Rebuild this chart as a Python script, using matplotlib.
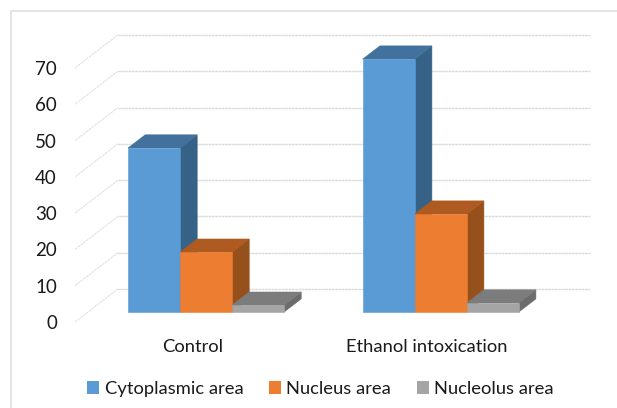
import matplotlib
matplotlib.use('Agg')
import matplotlib.pyplot as plt
from matplotlib.lines import Line2D
from matplotlib.patches import Polygon

plt.rcParams['font.family'] = ['Lato', 'DejaVu Sans']

# 数据
categories = ['Control', 'Ethanol intoxication']
series_names = ['Cytoplasmic area', 'Nucleus area', 'Nucleolus area']
cytoplasmic = [45.2, 69.7]
nucleus = [16.5, 27]
nucleolus = [1.9, 2.5]
y_ticks = [0, 10, 20, 30, 40, 50, 60, 70]

# 颜色: 正面, 顶面, 侧面
colors = [('#5b9bd5', '#41719c', '#376288'),
          ('#ed7d31', '#ae5a21', '#96501c'),
          ('#a5a5a5', '#7c7c7c', '#6c6c6c')]

W, H = 617, 408
fig = plt.figure(figsize=(W / 100, H / 100), dpi=100)

# 外框 (只有左边和上边)
fig.add_artist(Line2D([11 / W, 11 / W, 1], [0, 1 - 10.5 / H, 1 - 10.5 / H], color='#dcdcdc', lw=1.1,
                      transform=fig.transFigure))

# 坐标轴: 前平面, 左 75px, 底 322px, 每类 234.7px, 每 10 单位 36.3px
left, right, bottom, top = 75, 590, 322, 30
ax = fig.add_axes([left / W, 1 - bottom / H, (right - left) / W, (bottom - top) / H])
px_x = 234.7
px_y = 3.63
ax.set_xlim(0, (right - left) / px_x)
ax.set_ylim(0, (bottom - top) / px_y)
ax.patch.set_alpha(0)
for s in ax.spines.values():
    s.set_visible(False)

# 三维假透视: 深度 1 相当于右移 43px, 上移 33px
depth_x = 43 / px_x
depth_y = 33 / px_y


def proj(x, v, d):
    return x + d * depth_x, v + d * depth_y


# 网格线
back_right = (590 - left) / px_x
for v in y_ticks:
    ax.plot(*zip(proj(0, v, 0), proj(0, v, 1)), color='#e2e2e2', lw=0.8, ls=(0, (2.5, 0.6)), zorder=1, clip_on=False)
    x0, y0 = proj(0, v, 1)
    ax.plot([x0, back_right], [y0, y0], color='#dadada', lw=1, ls=(0, (2, 0.4)), zorder=1, clip_on=False)

bar_w = 52 / px_x
d0, d1 = 0.3, 0.7
first_bar = (128 - left - d0 * 43) / px_x


def draw_bar(x, v, cols, z):
    front = [proj(x, 0, d0), proj(x + bar_w, 0, d0), proj(x + bar_w, v, d0), proj(x, v, d0)]
    top_face = [proj(x, v, d0), proj(x + bar_w, v, d0), proj(x + bar_w, v, d1), proj(x, v, d1)]
    side = [proj(x + bar_w, 0, d0), proj(x + bar_w, 0, d1), proj(x + bar_w, v, d1), proj(x + bar_w, v, d0)]
    for pts, c in zip([side, top_face, front], [cols[2], cols[1], cols[0]]):
        ax.add_patch(Polygon(pts, closed=True, fc=c, ec=c, lw=0.4, zorder=z))


z = 3
for i in range(len(categories)):
    for j, vals in enumerate([cytoplasmic, nucleus, nucleolus]):
        draw_bar(first_bar + i + j * bar_w, vals[i], colors[j], z)
        z += 1

ax.set_yticks(y_ticks)
ax.set_yticklabels([str(t) for t in y_ticks], fontsize=13.5, color='#1a1a1a')
ax.tick_params(axis='y', length=0, pad=13)
ax.set_xticks([(192.5 - left) / px_x, (427 - left) / px_x])
ax.set_xticklabels(categories, fontsize=13.2, color='#1a1a1a')
ax.tick_params(axis='x', length=0, pad=12)

# 图例
handles = [plt.Rectangle((0, 0), 1, 1, fc=c[0]) for c in colors]
fig.legend(handles, series_names, loc='center', bbox_to_anchor=(320.5 / W, 1 - 389 / H), ncol=3,
           frameon=False, fontsize=13.2, handlelength=0.65, handleheight=0.65, handletextpad=0.3,
           columnspacing=1.4, labelcolor='#1a1a1a', borderpad=0, borderaxespad=0)

fig.savefig('out.png', dpi=100)
